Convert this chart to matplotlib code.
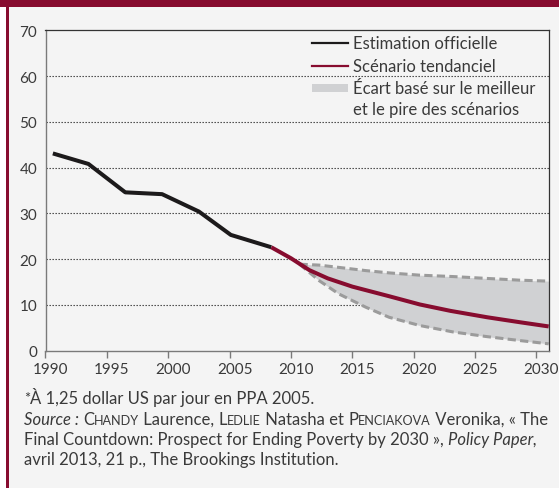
import matplotlib
matplotlib.use('Agg')
import matplotlib.pyplot as plt
import matplotlib.transforms as mtransforms
from matplotlib.patches import Rectangle
from matplotlib.lines import Line2D

plt.rcParams['font.family'] = ['Lato', 'DejaVu Sans']

# data (share of population under poverty line, %)
official_years = [1990.6, 1993.5, 1996.5, 1999.5, 2002.5, 2005.1, 2008.4]
official_values = [43.1, 40.8, 34.6, 34.2, 30.4, 25.3, 22.6]

trend_years = [2008.4, 2010.0, 2011.5, 2013.0, 2015.0, 2018.0, 2020.5, 2023.0, 2026.0, 2028.7, 2031.0]
trend_values = [22.6, 20.2, 17.6, 15.8, 14.0, 11.9, 10.1, 8.7, 7.3, 6.2, 5.3]

range_years = [2010.7, 2012.3, 2013.9, 2016.1, 2018.0, 2020.5, 2023.2, 2025.9, 2028.7, 2031.0]
worst_case = [18.9, 18.7, 18.2, 17.5, 17.0, 16.5, 16.2, 15.8, 15.4, 15.2]
best_case = [18.9, 15.3, 12.4, 9.5, 7.3, 5.5, 4.1, 3.1, 2.2, 1.5]

x_ticks = [1990, 1995, 2000, 2005, 2010, 2015, 2020, 2025, 2030]
y_ticks = [0, 10, 20, 30, 40, 50, 60, 70]

legend_labels = ['Estimation officielle', 'Scénario tendanciel',
                 'Écart basé sur le meilleur\net le pire des scénarios']

MAROON = '#870c2f'
TEXT = '#3a3a3a'
W, H = 559, 489

fig = plt.figure(figsize=(W / 100, H / 100), dpi=100, facecolor='#f4f4f4')

# frame decoration: white strip, maroon left rule and top band
fig.patches.append(Rectangle((0, 0), 6 / W, 1, transform=fig.transFigure,
                             facecolor='white', edgecolor='none'))
fig.patches.append(Rectangle((6 / W, 0), 3 / W, 1, transform=fig.transFigure,
                             facecolor=MAROON, edgecolor='none'))
fig.patches.append(Rectangle((0, 1 - 8 / H), 1, 8 / H, transform=fig.transFigure,
                             facecolor=MAROON, edgecolor='none'))

ax = fig.add_axes([45.5 / W, 1 - 351.7 / H, (549.3 - 45.5) / W, (351.7 - 31.3) / H])
ax.set_facecolor('#f4f4f4')

ax.fill_between(range_years, best_case, worst_case, color='#d0d1d3', lw=0, zorder=1)
ax.plot(range_years, worst_case, color='#9b9b9b', lw=2.2, dashes=(2.7, 1.4), zorder=2)
ax.plot(range_years, best_case, color='#9b9b9b', lw=2.2, dashes=(2.7, 1.4), zorder=2)
ax.plot(official_years, official_values, color='#1c1a1b', lw=2.9,
        solid_capstyle='butt', zorder=3)
ax.plot(trend_years, trend_values, color=MAROON, lw=2.9, solid_capstyle='butt', zorder=3)

ax.set_xlim(1990, 2031.05)
ax.set_ylim(0, 70)
ax.set_xticks(x_ticks)
ax.set_yticks(y_ticks)

for v in y_ticks[1:-1]:
    ax.axhline(v, color='#333333', lw=0.8, ls=(0, (1.2, 1.5)), zorder=0)

for side in ['top', 'right']:
    ax.spines[side].set_color('#333333')
    ax.spines[side].set_linewidth(0.9)
for side in ['left', 'bottom']:
    ax.spines[side].set_color('#7a7a7a')
    ax.spines[side].set_linewidth(1.0)

ax.tick_params(axis='y', length=0, pad=6, labelsize=11, labelcolor=TEXT)
ax.tick_params(axis='x', length=5, width=1, color='#7a7a7a', pad=3,
               labelsize=11, labelcolor=TEXT)
shift = mtransforms.ScaledTranslation(5 / 100, 0, fig.dpi_scale_trans)
for lab in ax.get_xticklabels():
    lab.set_transform(lab.get_transform() + shift)

# legend drawn by hand at its place in the top right corner
def fy(py):
    return 1 - py / H

fig.add_artist(Line2D([312 / W, 348 / W], [fy(44), fy(44)], color='#1c1a1b', lw=1.6))
fig.add_artist(Line2D([312 / W, 348 / W], [fy(66.7), fy(66.7)], color=MAROON, lw=1.6))
fig.patches.append(Rectangle((312 / W, fy(93)), 36 / W, 8 / H, transform=fig.transFigure,
                             facecolor='#d0d1d3', edgecolor='none'))
fig.text(353 / W, fy(49.3), legend_labels[0], fontsize=12, color=TEXT, va='baseline')
fig.text(353 / W, fy(71.7), legend_labels[1], fontsize=12, color=TEXT, va='baseline')
lines3 = legend_labels[2].split('\n')
fig.text(353 / W, fy(94), lines3[0], fontsize=12, color=TEXT, va='baseline')
fig.text(353 / W, fy(115.5), lines3[1], fontsize=12, color=TEXT, va='baseline')

# footnote with mixed styles (italic, small caps, superscript)
renderer = fig.canvas.get_renderer()
FS = 12


def runs(x_px, base_px, parts):
    x = x_px
    for s, kw in parts:
        kw = dict(kw)
        size = kw.pop('size', FS)
        dy = kw.pop('dy', 0)
        t = fig.text(x / W, fy(base_px - dy), s, fontsize=size, color=TEXT,
                     va='baseline', ha='left', **kw)
        x += t.get_window_extent(renderer).width


def small_caps(word):
    return [(word[0], {}), (word[1:].upper(), {'size': FS * 0.76})]


runs(24, 404.3, [('*', {'size': 10.5, 'dy': 1}), ('À 1,25 dollar US par jour en PPA 2005.', {})])
runs(24, 425, [('Source :', {'style': 'italic'}), (' ', {})]
     + small_caps('Chandy') + [(' Laurence, ', {})]
     + small_caps('Ledlie') + [(' Natasha et ', {})]
     + small_caps('Penciakova') + [(' Veronika, « The', {})])
runs(24, 445, [('Final Countdown: Prospect for Ending Poverty by 2030 », ', {}),
               ('Policy Paper,', {'style': 'italic'})])
runs(24, 465, [('avril 2013, 21 p., The Brookings Institution.', {})])

fig.savefig('out.png', dpi=100, facecolor=fig.get_facecolor())
